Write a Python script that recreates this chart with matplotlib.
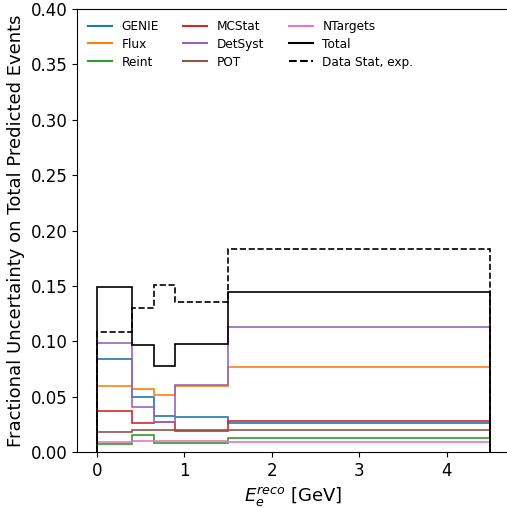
import numpy as np
import matplotlib
matplotlib.use("Agg")
import matplotlib.pyplot as plt
from matplotlib.lines import Line2D

# bin edges in reconstructed electron energy [GeV]
edges = np.array([0.0, 0.4, 0.65, 0.9, 1.5, 4.5])

# fractional uncertainties per bin
genie = [0.0836, 0.0498, 0.0323, 0.0314, 0.0263]
flux = [0.0598, 0.0565, 0.0513, 0.0596, 0.0764]
reint = [0.0075, 0.0151, 0.0084, 0.0084, 0.0130]
mcstat = [0.0374, 0.0263, 0.0272, 0.0187, 0.0278]
detsyst = [0.0984, 0.0405, 0.0272, 0.0607, 0.1132]
pot = [0.0184, 0.0196, 0.0196, 0.0200, 0.0196]
ntargets = [0.0090, 0.0099, 0.0099, 0.0099, 0.0094]
total = [0.1490, 0.0963, 0.0776, 0.0975, 0.1443]
data_stat = [0.1087, 0.1298, 0.1507, 0.1356, 0.1833]

sources = [
    ("GENIE", genie, "C0"),
    ("Flux", flux, "C1"),
    ("Reint", reint, "C2"),
    ("MCStat", mcstat, "C3"),
    ("DetSyst", detsyst, "C4"),
    ("POT", pot, "C5"),
    ("NTargets", ntargets, "C6"),
]

fig = plt.figure(figsize=(5.07, 5.08), dpi=100)
ax = fig.add_axes([77 / 507, (508 - 452) / 508, (510 - 77) / 507, (452 - 9) / 508])

handles = []
for name, vals, col in sources:
    ax.stairs(vals, edges, color=col, lw=1.2)
    handles.append(Line2D([], [], color=col, lw=1.5, label=name))
ax.stairs(total, edges, color="black", lw=1.2)
handles.append(Line2D([], [], color="black", lw=1.5, label="Total"))
ax.stairs(data_stat, edges, color="black", lw=1.2, linestyle="--")
handles.append(Line2D([], [], color="black", lw=1.5, ls="--", label="Data Stat, exp."))

ax.set_xlim(-0.225, 4.725)
ax.set_ylim(0, 0.4)
ax.set_xlabel(r"$E_e^{reco}$ [GeV]", fontsize=13)
ax.set_ylabel("Fractional Uncertainty on Total Predicted Events", fontsize=13)
ax.tick_params(labelsize=12)
ax.legend(handles=handles, ncol=3, frameon=False, fontsize=8.7,
          labelspacing=0.4, loc="upper left")

fig.savefig("out.png", dpi=100)
